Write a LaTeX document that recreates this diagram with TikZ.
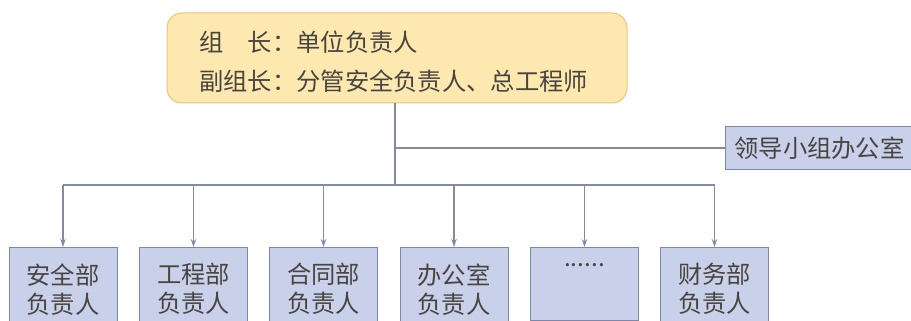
\documentclass[tikz,border=0pt]{standalone}
\usepackage{fontspec}
\setmainfont{Noto Sans CJK SC}
\usetikzlibrary{arrows.meta}
\definecolor{leadfill}{RGB}{253,232,176}
\definecolor{leaddraw}{RGB}{236,196,122}
\definecolor{deptfill}{RGB}{201,209,234}
\definecolor{deptdraw}{RGB}{125,135,172}
\definecolor{linec}{RGB}{132,138,165}
\definecolor{txt}{RGB}{72,68,64}
\tikzset{
  leadbox/.style={draw=leaddraw, fill=leadfill, line width=1pt, rounded corners=15pt,
    minimum width=460pt, minimum height=90pt, inner sep=0pt},
  leadtxt/.style={text=txt, font=\fontsize{24.3}{29}\selectfont, inner sep=0pt, anchor=base west},
  deptbox/.style={draw=deptdraw, fill=deptfill, line width=0.9pt, text=txt,
    font=\fontsize{24.3}{29}\selectfont, align=center, minimum width=108pt,
    inner xsep=4pt, inner ysep=16pt, anchor=north},
  officebox/.style={draw=deptdraw, fill=deptfill, line width=0.9pt, text=txt,
    font=\fontsize{24.3}{29}\selectfont, minimum height=43pt, inner xsep=9pt, anchor=west},
  conn/.style={draw=linec, line width=1.2pt},
  arr/.style={conn, -{Stealth[length=8pt,width=5.5pt]}}
}
\begin{document}
\begin{tikzpicture}[x=1pt,y=-1pt]
\useasboundingbox (0,0) rectangle (911,321);
\clip (0,0) rectangle (911,321);
% leader box
\node[leadbox] (lead) at (397,58) {};
\node[leadtxt] (l1) at (199,52) {组\hspace{1em}长：单位负责人};
\node[leadtxt] (l2) at (199,91) {副组长：分管安全负责人、总工程师};
% office
\node[officebox] (office) at (725,148) {领导小组办公室};
% departments
\node[deptbox] (d1) at (63,247) {安全部\\负责人};
\node[deptbox] (d2) at (193.5,247) {工程部\\负责人};
\node[deptbox] (d3) at (323.5,247) {合同部\\负责人};
\node[deptbox] (d4) at (454,247) {办公室\\负责人};
\node[deptbox] (d5) at (584.5,247) {\raisebox{9pt}{......}\\\mbox{}};
\node[deptbox] (d6) at (714.5,247) {财务部\\负责人};
% connectors
\coordinate (t0) at (395,103);
\coordinate (tb) at (395,148);
\coordinate (bus) at (395,185);
\coordinate (bl) at (63,185);
\coordinate (br) at (714.5,185);
\draw[conn] (t0) -- (bus);
\draw[conn] (tb) -- (office.west);
\draw[conn] (bl) -- (br);
\foreach \d in {d1,d2,d3,d4,d5,d6}{
  \draw[arr] (\d.north |- bl) -- (\d.north);
}
\end{tikzpicture}
\end{document}
